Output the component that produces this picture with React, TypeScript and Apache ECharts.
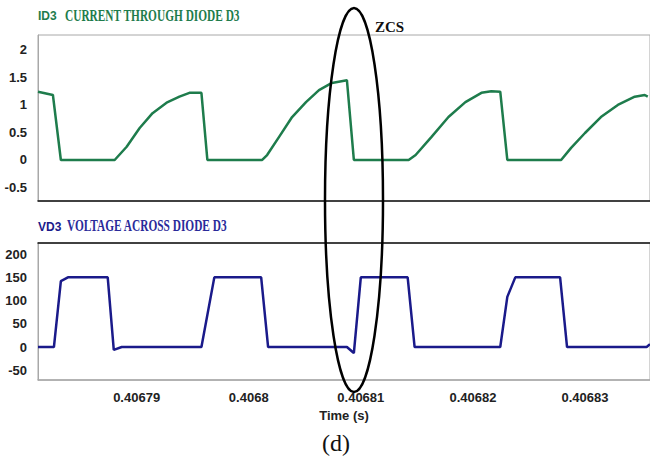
import React, { useEffect, useRef } from "react";
import * as echarts from "echarts";

// Time (s) and diode current (A)
const currentTime = [
  0.4067812, 0.40678253, 0.40678324, 0.40678804, 0.40678911, 0.40679027, 0.40679142, 0.40679267,
  0.40679382, 0.40679471, 0.40679578, 0.40679631, 0.4068012, 0.40680164, 0.40680271, 0.40680387,
  0.40680511, 0.40680627, 0.40680742, 0.40680876, 0.40680938, 0.40681427, 0.40681489, 0.40681631,
  0.40681782, 0.40681933, 0.40682076, 0.40682164, 0.40682244, 0.40682307, 0.40682787, 0.40682876,
  0.40683, 0.40683142, 0.40683293, 0.40683444, 0.40683533, 0.4068356,
];
const currentValues = [
  1.24, 1.18, 0, 0, 0.24, 0.58, 0.85, 1.04,
  1.15, 1.22, 1.22, 0, 0, 0.09, 0.42, 0.78,
  1.05, 1.27, 1.4, 1.45, 0, 0, 0.09, 0.42,
  0.78, 1.05, 1.22, 1.25, 1.24, 0, 0, 0.22,
  0.49, 0.78, 1.0, 1.15, 1.18, 1.15,
];

// Time (s) and diode voltage (V)
const voltageTime = [
  0.4067812, 0.40678262, 0.40678324, 0.40678387, 0.40678742, 0.40678796, 0.40678867, 0.40679578,
  0.40679693, 0.40680111, 0.40680173, 0.40680876, 0.40680938, 0.40681, 0.40681418, 0.4068148,
  0.40682244, 0.40682307, 0.40682378, 0.40682778, 0.4068284, 0.4068355, 0.4068358,
];
const voltageValues = [
  0, 0, 142, 150, 150, -6, 0, 0,
  150, 150, 0, 0, -13, 150, 150, 0,
  0, 108, 150, 150, 0, 0, 6,
];

const xTicks = [0.40679, 0.4068, 0.40681, 0.40682, 0.40683];
const currentTicks = [-0.5, 0, 0.5, 1, 1.5, 2];
const voltageTicks = [-50, 0, 50, 100, 150, 200];

const X_MIN = 0.4067812;
const X_MAX = 0.4068358;

const GREEN = "#1e7c4c";
const BLUE = "#1a1a8a";
const labelFont = "'Liberation Sans', Arial, sans-serif";
const serif = "'Liberation Serif', 'Times New Roman', serif";

export default function App() {
  const ref = useRef<HTMLDivElement>(null);

  useEffect(() => {
    if (!ref.current) return;
    const chart = echarts.init(ref.current, undefined, { renderer: "svg" });
    const axisLabel = {
      fontFamily: labelFont,
      fontWeight: "bold" as const,
      fontSize: 13,
      color: "#222",
    };
    chart.setOption({
      animation: false,
      backgroundColor: "#fff",
      grid: [
        { left: 38, top: 35, right: -2, height: 166, show: true, borderColor: "#a8a8a8", borderWidth: 1 },
        { left: 38, top: 243, right: -2, height: 137, show: true, borderColor: "#a8a8a8", borderWidth: 1 },
      ],
      xAxis: [
        {
          type: "value", gridIndex: 0, min: X_MIN, max: X_MAX,
          axisLine: { show: true, onZero: false, lineStyle: { color: "#111", width: 1.5 } },
          axisTick: { show: false }, axisLabel: { show: false }, splitLine: { show: false },
        },
        {
          type: "value", gridIndex: 1, min: X_MIN, max: X_MAX, position: "bottom",
          axisLine: { show: true, onZero: false, lineStyle: { color: "#a8a8a8", width: 1.5 } },
          axisTick: { show: false }, splitLine: { show: false },
          axisLabel: {
            ...axisLabel, margin: 11,
            customValues: xTicks,
            formatter: (v: number) => String(Number(v.toFixed(5))),
          },
          name: "Time (s)", nameLocation: "middle", nameGap: 29,
          nameTextStyle: { fontFamily: labelFont, fontWeight: "bold", fontSize: 13, color: "#222" },
        },
        {
          type: "value", gridIndex: 1, min: X_MIN, max: X_MAX, position: "top",
          axisLine: { show: true, onZero: false, lineStyle: { color: "#111", width: 1.5 } },
          axisTick: { show: false }, axisLabel: { show: false }, splitLine: { show: false },
        },
      ],
      yAxis: [
        {
          type: "value", gridIndex: 0, min: -0.745, max: 2.27,
          axisLine: { show: true, onZero: false, lineStyle: { color: "#a8a8a8" } },
          axisTick: { show: false }, splitLine: { show: false },
          axisLabel: { ...axisLabel, margin: 11, customValues: currentTicks },
        },
        {
          type: "value", gridIndex: 1, min: -71, max: 224,
          axisLine: { show: true, onZero: false, lineStyle: { color: "#a8a8a8" } },
          axisTick: { show: false }, splitLine: { show: false },
          axisLabel: { ...axisLabel, margin: 11, customValues: voltageTicks },
        },
      ],
      series: [
        {
          type: "line", xAxisIndex: 0, yAxisIndex: 0, showSymbol: false,
          lineStyle: { color: GREEN, width: 2.5 },
          data: currentTime.map((t, i) => [t, currentValues[i]]),
        },
        {
          type: "line", xAxisIndex: 1, yAxisIndex: 1, showSymbol: false,
          lineStyle: { color: BLUE, width: 2.5 },
          data: voltageTime.map((t, i) => [t, voltageValues[i]]),
        },
      ],
      graphic: [
        { type: "text", x: 38, y: 10, style: { text: "ID3", font: `bold 12px ${labelFont}`, fill: GREEN } },
        {
          type: "text", x: 65, y: 8, scaleX: 0.71,
          style: { text: "CURRENT THROUGH DIODE D3", font: `bold 16px ${serif}`, fill: GREEN },
        },
        { type: "text", x: 38, y: 221, style: { text: "VD3", font: `bold 12px ${labelFont}`, fill: BLUE } },
        {
          type: "text", x: 67, y: 218, scaleX: 0.71,
          style: { text: "VOLTAGE ACROSS DIODE D3", font: `bold 16px ${serif}`, fill: "#2a2a9a" },
        },
        {
          type: "ellipse", shape: { cx: 354, cy: 200, rx: 29, ry: 192 },
          style: { fill: "none", stroke: "#000", lineWidth: 2.5 }, z: 100,
        },
        { type: "text", x: 375, y: 19, style: { text: "ZCS", font: `bold 15px ${serif}`, fill: "#111" }, z: 100 },
        { type: "text", x: 322, y: 431, style: { text: "(d)", font: `24px ${serif}`, fill: "#111" } },
      ],
    });
    return () => chart.dispose();
  }, []);

  return (
    <div
      ref={ref}
      style={{ position: "fixed", left: 0, top: 0, width: 650, height: 465 }}
    />
  );
}
